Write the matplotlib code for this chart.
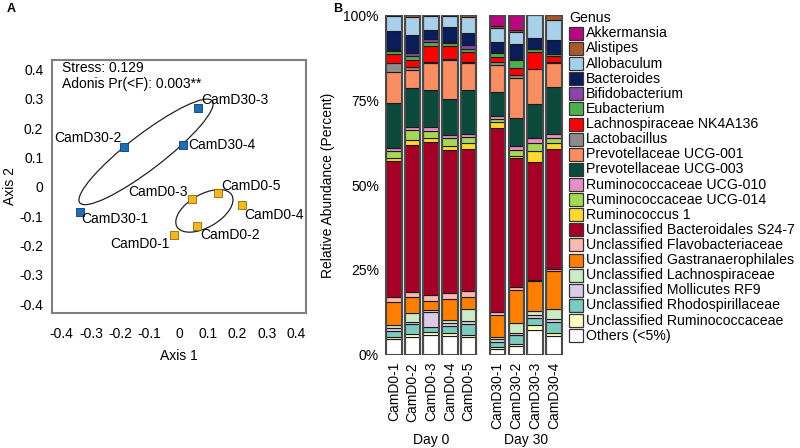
import matplotlib
matplotlib.use("Agg")
import matplotlib.pyplot as plt
import numpy as np
from matplotlib.patches import Ellipse, Rectangle

plt.rcParams['font.family'] = ['Liberation Sans', 'DejaVu Sans']

# ---- panel A: NMDS ordination ----
d0_names = ['CamD0-1', 'CamD0-2', 'CamD0-3', 'CamD0-4', 'CamD0-5']
d0_x = [-0.016, 0.063, 0.046, 0.217, 0.135]
d0_y = [-0.164, -0.133, -0.043, -0.062, -0.020]
d30_names = ['CamD30-1', 'CamD30-2', 'CamD30-3', 'CamD30-4']
d30_x = [-0.338, -0.187, 0.064, 0.015]
d30_y = [-0.087, 0.134, 0.267, 0.142]

# ---- panel B: relative abundance (percent), bottom to top ----
samples = d0_names + d30_names
others = [4.6, 5.2, 5.9, 5.6, 5.2, 1.8, 2.5, 7.4, 5.6]
unc_ruminococcaceae = [0.8, 0.9, 0.8, 0.8, 0.7, 0.5, 0.7, 1.5, 0.8]
unc_rhodospirillaceae = [1.8, 3.0, 1.4, 2.2, 3.2, 1.4, 2.7, 2.0, 3.4]
unc_mollicutes = [0.6, 0.7, 4.5, 0.7, 1.0, 1.0, 0.7, 1.0, 0.7]
unc_lachnospiraceae = [1.0, 2.5, 0.7, 1.0, 3.3, 0.6, 2.9, 0.9, 2.9]
unc_gastranaerophilales = [6.9, 4.8, 2.7, 6.2, 3.7, 6.6, 9.7, 8.9, 11.2]
unc_flavobacteriaceae = [1.5, 1.5, 1.7, 1.6, 1.7, 0.8, 0.7, 0.4, 0.8]
unc_bacteroidales = [39.9, 43.2, 45.0, 42.2, 41.7, 54.0, 38.0, 34.7, 35.3]
ruminococcus1 = [0.9, 1.3, 1.0, 1.2, 1.8, 1.7, 0.6, 3.2, 1.7]
rum_ucg014 = [2.0, 3.2, 2.3, 2.3, 1.7, 1.0, 1.9, 2.5, 1.3]
rum_ucg010 = [0.9, 0.9, 1.0, 1.0, 1.0, 0.8, 1.1, 1.3, 1.3]
prev_ucg003 = [13.1, 11.3, 10.9, 10.4, 12.9, 7.2, 8.3, 10.1, 13.8]
prev_ucg001 = [9.3, 5.3, 7.9, 11.6, 7.9, 7.9, 11.7, 10.3, 7.1]
lactobacillus = [2.5, 1.0, 0.5, 0.4, 0.3, 0.8, 1.0, 0.0, 0.3]
lachno_nk4a136 = [2.6, 2.0, 4.7, 3.7, 3.1, 1.5, 2.0, 4.9, 1.7]
eubacterium = [1.1, 1.0, 1.0, 0.8, 0.9, 1.2, 2.4, 0.8, 0.7]
bifidobacterium = [0.3, 1.0, 0.9, 0.5, 1.0, 0.3, 0.3, 0.2, 0.0]
bacteroides = [5.4, 5.4, 2.7, 4.4, 3.6, 3.0, 4.4, 3.2, 4.1]
allobaculum = [4.4, 5.1, 4.1, 3.1, 4.8, 4.1, 3.4, 6.7, 5.9]
alistipes = [0.4, 0.7, 0.3, 0.3, 0.5, 0.6, 0.6, 0.0, 1.4]
akkermansia = [0, 0, 0, 0, 0, 3.2, 4.4, 0, 0]

genera = ['Akkermansia', 'Alistipes', 'Allobaculum', 'Bacteroides', 'Bifidobacterium',
          'Eubacterium', 'Lachnospiraceae NK4A136', 'Lactobacillus',
          'Prevotellaceae UCG-001', 'Prevotellaceae UCG-003', 'Ruminococcaceae UCG-010',
          'Ruminococcaceae UCG-014', 'Ruminococcus 1', 'Unclassified Bacteroidales S24-7',
          'Unclassified Flavobacteriaceae', 'Unclassified Gastranaerophilales',
          'Unclassified Lachnospiraceae', 'Unclassified Mollicutes RF9',
          'Unclassified Rhodospirillaceae', 'Unclassified Ruminococcaceae', 'Others (<5%)']
colors = ['#b8087f', '#a65a2a', '#a9d0ea', '#0b1c5a', '#8b44a8', '#4caf50', '#ff0000',
          '#8c8c8c', '#f88e62', '#0b4a3a', '#e98fc8', '#a6d854', '#ffd92f', '#a50026',
          '#f9b8b0', '#ff8000', '#cdebc5', '#dccbe6', '#7ccbc0', '#ffffc4', '#ffffff']
values = [akkermansia, alistipes, allobaculum, bacteroides, bifidobacterium, eubacterium,
          lachno_nk4a136, lactobacillus, prev_ucg001, prev_ucg003, rum_ucg010, rum_ucg014,
          ruminococcus1, unc_bacteroidales, unc_flavobacteriaceae, unc_gastranaerophilales,
          unc_lachnospiraceae, unc_mollicutes, unc_rhodospirillaceae, unc_ruminococcaceae,
          others]

fig = plt.figure(figsize=(8, 4.48), dpi=100)

# panel A
axA = fig.add_axes([0.0646, 0.302, 0.318, 0.564])
axA.add_patch(Ellipse((-0.112, 0.119), 0.57, 0.12, angle=37.5, fill=False,
                      edgecolor='#222222', lw=0.9))
axA.add_patch(Ellipse((0.087, -0.082), 0.216, 0.112, angle=30, fill=False,
                      edgecolor='#222222', lw=0.9))
axA.scatter(d30_x, d30_y, marker='s', s=26, color='#1f6db5', edgecolor='#0d3d70',
            linewidth=0.6, zorder=3)
axA.scatter(d0_x, d0_y, marker='s', s=26, color='#f5b71b', edgecolor='#8a6a10',
            linewidth=0.6, zorder=3)

# label offsets in pixels (dx right, dy up)
offsets_d0 = [(-5, -9, 'right'), (3, -9, 'left'), (-5, 7, 'right'), (2, -10, 'left'),
              (3, 7, 'left')]
offsets_d30 = [(1, -7, 'left'), (-2, 9, 'right'), (4, 8, 'left'), (5, 0, 'left')]
for name, x, y, (dx, dy, ha) in zip(d0_names, d0_x, d0_y, offsets_d0):
    axA.annotate(name, (x, y), xytext=(dx, dy), textcoords='offset pixels',
                 ha=ha, va='center', fontsize=10)
for name, x, y, (dx, dy, ha) in zip(d30_names, d30_x, d30_y, offsets_d30):
    axA.annotate(name, (x, y), xytext=(dx, dy), textcoords='offset pixels',
                 ha=ha, va='center', fontsize=10)

axA.text(0.039, 0.967, 'Stress: 0.129', transform=axA.transAxes, va='center', fontsize=10)
axA.text(0.039, 0.904, 'Adonis Pr(<F): 0.003**', transform=axA.transAxes, va='center',
         fontsize=10)
axA.set_xlim(-0.434, 0.434)
axA.set_ylim(-0.429, 0.432)
ticks = np.round(np.arange(-0.4, 0.41, 0.1), 1)
tick_labels = ['0' if t == 0 else f'{t:.1f}' for t in ticks]
axA.set_xticks(ticks)
axA.set_xticklabels(tick_labels)
axA.set_yticks(ticks)
axA.set_yticklabels(tick_labels)
axA.tick_params(axis='x', length=0, pad=10, labelsize=10)
axA.tick_params(axis='y', length=0, pad=6, labelsize=10)
for sp in axA.spines.values():
    sp.set_edgecolor('#808080')
    sp.set_linewidth(1.5)
axA.set_xlabel('Axis 1', fontsize=10, labelpad=6)
axA.set_ylabel('Axis 2', fontsize=10, labelpad=2)

# panel B
axB = fig.add_axes([0.4805, 0.2076, 0.2236, 0.7589])
pos = np.array([0, 1, 2, 3, 4, 5.55, 6.55, 7.55, 8.55])
width = 0.83
bottom = np.zeros(len(samples))
for vals, col in zip(values[::-1], colors[::-1]):
    vals = np.array(vals, dtype=float)
    edges = ['#1a1a1a' if v > 0 else 'none' for v in vals]
    axB.bar(pos, vals, width, bottom=bottom, color=col, edgecolor=edges, linewidth=0.8)
    bottom += vals
axB.bar(pos, bottom, width, fill=False, edgecolor='#4a4a4a', linewidth=1.5)
axB.set_xlim(-0.5, 9.05)
axB.set_ylim(0, 100)
axB.set_yticks([0, 25, 50, 75, 100])
axB.set_yticklabels(['0%', '25%', '50%', '75%', '100%'])
axB.set_xticks(pos)
axB.set_xticklabels(samples, rotation=90)
axB.tick_params(length=0, labelsize=10)
axB.tick_params(axis='y', pad=4)
axB.tick_params(axis='x', pad=5)
for sp in axB.spines.values():
    sp.set_visible(False)
axB.set_ylabel('Relative Abundance (Percent)', fontsize=10, labelpad=6)
day_y = -(440 - 355) / 340.0
axB.text(2, day_y, 'Day 0', transform=axB.get_xaxis_transform(), ha='center',
         va='center', fontsize=10)
axB.text(7.05, day_y, 'Day 30', transform=axB.get_xaxis_transform(), ha='center',
         va='center', fontsize=10)

# legend
W, H = 800, 448
fig.text(569 / W, 1 - 18.3 / H, 'Genus', ha='left', va='center', fontsize=10.2)
for i, (g, c) in enumerate(zip(genera, colors)):
    yc = 33.3 + i * 15.12
    fig.add_artist(Rectangle((569.3 / W, 1 - (yc + 6.5) / H), 14 / W, 13 / H,
                             facecolor=c, edgecolor='#333333', linewidth=0.9,
                             transform=fig.transFigure))
    fig.text(586 / W, 1 - yc / H, g, ha='left', va='center', fontsize=10.2)

fig.text(7 / W, 1 - 9 / H, 'A', fontsize=9, fontweight='bold', va='center')
fig.text(333 / W, 1 - 9 / H, 'B', fontsize=9, fontweight='bold', va='center')

fig.savefig('out.png', dpi=100)
